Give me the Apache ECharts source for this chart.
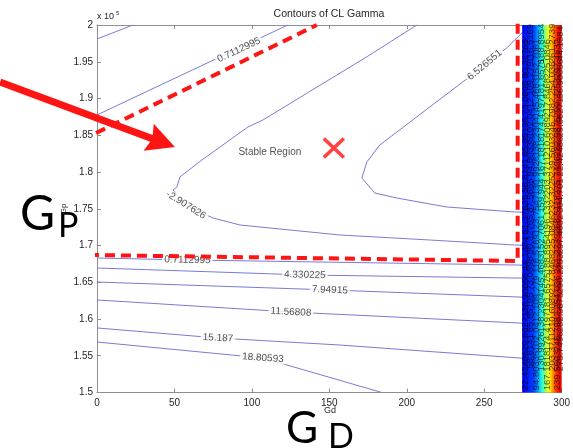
<!DOCTYPE html>
<html>
<head>
<meta charset="utf-8">
<script src="https://cdn.jsdelivr.net/npm/echarts@6/dist/echarts.min.js"></script>
<style>
html, body { margin: 0; padding: 0; background: #fff; }
#main { width: 573px; height: 448px; }
</style>
</head>
<body>
<div id="main"></div>
<script>
// ================= data (y in units of 1e5, as the ticks read) =================
const xRange = [0, 300]
const yRange = [1.5, 2.0]

// contour lines
const lineCorner = [[0, 1.981], [23.2, 2.0]]
const lineUpper0711 = [[0, 1.8776], [123.2, 2.0]]
const lineOuter = [[206.5, 2.0], [176.1, 1.9592], [107.1, 1.8707], [97.4, 1.8612], [67.7, 1.8163], [53.5, 1.7932],
  [51.6, 1.7796], [49.0, 1.7755], [57.4, 1.7551], [74.8, 1.7374], [92.3, 1.7279], [124.5, 1.7211],
  [156.8, 1.7143], [214.8, 1.7075], [269.7, 1.7007], [275, 1.7003]]
const lineInner = [[275, 1.9905], [269.7, 1.9796], [264.5, 1.9687], [250.3, 1.9456], [236.1, 1.9224], [214.8, 1.8884],
  [182.6, 1.8367], [174.2, 1.8136], [171.0, 1.7918], [179.4, 1.7714], [193.5, 1.7646], [225.8, 1.7524],
  [269.7, 1.7456], [275, 1.7452]]
const lineLower0711 = [[0, 1.683], [58.4, 1.6803], [275, 1.6733]]
const line4330 = [[0, 1.6694], [134.2, 1.6599], [275, 1.6556]]
const line7949 = [[0, 1.6503], [150.3, 1.6395], [275, 1.6297]]
const line11568 = [[0, 1.6259], [125.2, 1.6095], [275, 1.5943]]
const line15187 = [[0, 1.5878], [78.1, 1.5741], [156.8, 1.5646], [275, 1.5466]]
const line18806 = [[0, 1.5687], [107.1, 1.5469], [183.9, 1.5]]
const contourLines = [lineCorner, lineUpper0711, lineOuter, lineInner, lineLower0711,
  line4330, line7949, line11568, line15187, line18806]

// inline contour labels
const contourLabelText = ['0.7112995', '-2.907626', '6.526551', '0.7112995', '4.330225',
  '7.94915', '11.56808', '15.187', '18.80593']
const contourLabelAt = [[91.6, 1.966], [57.4, 1.7551], [250.3, 1.9456], [58.4, 1.6803], [134.2, 1.6599],
  [150.3, 1.6395], [125.2, 1.6095], [78.1, 1.5741], [107.1, 1.5469]]

// dense contour band at the right edge
const bandX = [274.5, 300]
const bandText = ['22.42486', '29.66271', '36.90056', '44.1384', '51.37625', '58.6141', '65.85195', '73.0898',
  '80.32765', '87.5655', '94.80335', '102.0412', '109.279', '116.5169', '123.7547', '130.9926',
  '138.2304', '145.4683', '152.7061', '159.944', '167.1818', '174.4197', '181.6575', '188.8954',
  '196.1332', '203.3711', '210.6089', '217.8468', '225.0846', '232.3225', '239.5603', '246.7982',
  '254.036', '261.2739', '268.5118', '275.7496', '282.9875', '290.2253', '297.4632', '304.701']
const bandCols = [276.4, 279.6, 283.4, 287.2, 290.6, 293.8, 297.0, 299.4]
const bandRowsA = [1.53, 1.583, 1.636, 1.689, 1.742, 1.795, 1.848, 1.901, 1.954]
const bandRowsB = [1.556, 1.609, 1.662, 1.715, 1.768, 1.821, 1.874, 1.927, 1.975]

// red annotations
const redDiag = [[-0.6, 1.853], [141.9, 2.0]]
const redBoundary = [[-5.2, 1.6871], [271.6, 1.6789], [271.6, 2.007]]
const arrowTail = [-62.6, 1.9224]
const arrowTip = [50.3, 1.834]
const crossAt = [152.9, 1.8327]
const stableAt = [111.6, 1.8272]

// ================= styles =================
const labelAngle = [25, -32, 40, -1, -1.5, -2, -3, -3, -4]
const FONT = 'Liberation Sans, Arial, sans-serif'
const BIG = 'Lato, Noto Sans, sans-serif'
const axisGray = '#8e8e8e'
const textGray = '#262626'
const lineBlue = '#7a7ad6'
const red = '#ff1414'

const chart = echarts.init(document.getElementById('main'))

const bandItems = []
bandCols.forEach((x, c) => {
  const rows = c % 2 ? bandRowsB : bandRowsA
  rows.forEach((y, r) => {
    bandItems.push({ value: [x, y], name: bandText[(c * 5 + r) % bandText.length] })
  })
})

const series = []
contourLines.forEach((pts) => {
  series.push({
    type: 'line', data: pts, showSymbol: false, silent: true, z: 2,
    lineStyle: { color: lineBlue, width: 1 },
  })
})
series.push({
  type: 'scatter', symbolSize: 0, silent: true, z: 4,
  data: contourLabelText.map((t, i) => ({ value: contourLabelAt[i], name: t, label: { rotate: labelAngle[i] } })),
  label: {
    show: true, position: 'inside', formatter: '{b}', fontSize: 10, fontFamily: FONT,
    color: textGray, backgroundColor: '#fff', padding: [0, 2],
  },
})
series.push({
  type: 'scatter', symbolSize: 0, silent: true, z: 4,
  data: [{ value: stableAt, name: 'Stable Region' }],
  label: { show: true, position: 'inside', formatter: '{b}', fontSize: 10, fontFamily: FONT, color: textGray },
})
series.push({
  type: 'custom', z: 5, silent: true, clip: false,
  data: [[bandX[0], bandX[1], yRange[0], yRange[1]]],
  encode: { x: [0, 1], y: [2, 3] },
  renderItem: (params, api) => {
    const a = api.coord([api.value(0), api.value(3)])
    const b = api.coord([api.value(1), api.value(2)])
    return {
      type: 'rect',
      shape: { x: a[0], y: a[1], width: b[0] - a[0], height: b[1] - a[1] },
      style: {
        fill: new echarts.graphic.LinearGradient(0, 0, 1, 0, [
          { offset: 0, color: '#0000ee' },
          { offset: 0.3, color: '#0040ff' },
          { offset: 0.42, color: '#00b4ff' },
          { offset: 0.5, color: '#20ffe0' },
          { offset: 0.58, color: '#90ff70' },
          { offset: 0.68, color: '#ffff00' },
          { offset: 0.78, color: '#ff9000' },
          { offset: 0.88, color: '#ff2000' },
          { offset: 1, color: '#dd0000' },
        ]),
      },
    }
  },
})
series.push({
  type: 'scatter', symbolSize: 0, silent: true, z: 6,
  data: bandItems,
  label: {
    show: true, position: 'inside', formatter: '{b}', rotate: 90,
    fontSize: 9.5, fontFamily: FONT, color: 'rgba(0,0,0,0.85)',
  },
})
;[redDiag, redBoundary].forEach((pts) => {
  series.push({
    type: 'line', data: pts, showSymbol: false, silent: true, clip: false, z: 10,
    lineStyle: { color: red, width: 4, type: [10, 6] },
  })
})
series.push({
  type: 'scatter', silent: true, z: 11,
  data: [crossAt],
  symbol: 'path://M0,0L20,20M20,0L0,20',
  symbolSize: [20, 19],
  itemStyle: { color: 'none', borderColor: red, borderWidth: 3.5 },
})

const option = {
  animation: false,
  backgroundColor: '#fff',
  grid: { left: 97, right: 11, top: 25, bottom: 55.5 },
  xAxis: [
    {
      type: 'value', position: 'bottom', min: xRange[0], max: xRange[1], interval: 50,
      axisLine: { lineStyle: { color: axisGray } },
      axisTick: { inside: true, length: 4, lineStyle: { color: axisGray } },
      axisLabel: { fontSize: 10, fontFamily: FONT, color: textGray, margin: 6 },
      splitLine: { show: false },
    },
    {
      type: 'value', position: 'top', min: xRange[0], max: xRange[1], interval: 50,
      axisLine: { lineStyle: { color: axisGray } },
      axisTick: { inside: true, length: 4, lineStyle: { color: axisGray } },
      axisLabel: { show: false },
      splitLine: { show: false },
    },
  ],
  yAxis: [
    {
      type: 'value', position: 'left', min: yRange[0], max: yRange[1], interval: 0.05,
      axisLine: { show: true, lineStyle: { color: axisGray } },
      axisTick: { show: true, inside: true, length: 4, lineStyle: { color: axisGray } },
      axisLabel: {
        fontSize: 10, fontFamily: FONT, color: textGray, margin: 4,
        formatter: (v) => String(parseFloat(v.toFixed(2))),
      },
      splitLine: { show: false },
    },
    {
      type: 'value', position: 'right', min: yRange[0], max: yRange[1],
      axisLine: { show: true, lineStyle: { color: axisGray } },
      axisTick: { show: false }, axisLabel: { show: false }, splitLine: { show: false },
    },
  ],
  series,
}
chart.setOption(option)

// ================= annotations =================
const p0 = chart.convertToPixel({ xAxisIndex: 0, yAxisIndex: 0 }, arrowTail)
const p1 = chart.convertToPixel({ xAxisIndex: 0, yAxisIndex: 0 }, arrowTip)
const dx = p1[0] - p0[0], dy = p1[1] - p0[1]
const len = Math.hypot(dx, dy)
const ux = dx / len, uy = dy / len
const nx = -uy, ny = ux
const headLen = 28, headHalf = 14.5, shaftHalf = 3.6
const bx = p1[0] - ux * headLen, by = p1[1] - uy * headLen
const arrowPts = [
  [p0[0] + nx * shaftHalf, p0[1] + ny * shaftHalf],
  [bx + ux * 3 + nx * shaftHalf, by + uy * 3 + ny * shaftHalf],
  [bx + nx * headHalf, by + ny * headHalf],
  p1,
  [bx - nx * headHalf, by - ny * headHalf],
  [bx + ux * 3 - nx * shaftHalf, by + uy * 3 - ny * shaftHalf],
  [p0[0] - nx * shaftHalf, p0[1] - ny * shaftHalf],
]

chart.setOption({
  graphic: [
    { type: 'polygon', z: 100, silent: true, shape: { points: arrowPts }, style: { fill: red } },
    { type: 'text', z: 100, x: 329, y: 14, style: { text: 'Contours of CL Gamma', font: '10.5px ' + FONT, fill: textGray, align: 'center', verticalAlign: 'middle' } },
    { type: 'text', z: 100, x: 97, y: 17, style: { text: 'x 10', font: '9px ' + FONT, fill: textGray, align: 'left', verticalAlign: 'middle' } },
    { type: 'text', z: 100, x: 116, y: 13, style: { text: '5', font: '6px ' + FONT, fill: textGray, align: 'left', verticalAlign: 'middle' } },
    { type: 'text', z: 100, x: 20, y: 215, style: { text: 'G', font: '48px ' + BIG, fill: '#000', align: 'left', verticalAlign: 'middle' } },
    { type: 'text', z: 100, x: 58, y: 226, style: { text: 'P', font: '34px ' + BIG, fill: '#000', align: 'left', verticalAlign: 'middle' } },
    { type: 'text', z: 100, x: 64, y: 209, rotation: Math.PI / 2, style: { text: 'Gp', font: '8px ' + FONT, fill: textGray, align: 'center', verticalAlign: 'middle' } },
    { type: 'text', z: 100, x: 286, y: 429, style: { text: 'G', font: '44px ' + BIG, fill: '#000', align: 'left', verticalAlign: 'middle' } },
    { type: 'text', z: 100, x: 328, y: 437, style: { text: 'D', font: '34px ' + BIG, fill: '#000', align: 'left', verticalAlign: 'middle' } },
    { type: 'text', z: 100, x: 330, y: 411, style: { text: 'Gd', font: '9px ' + FONT, fill: textGray, align: 'center', verticalAlign: 'middle' } },
  ],
})
</script>
</body>
</html>
